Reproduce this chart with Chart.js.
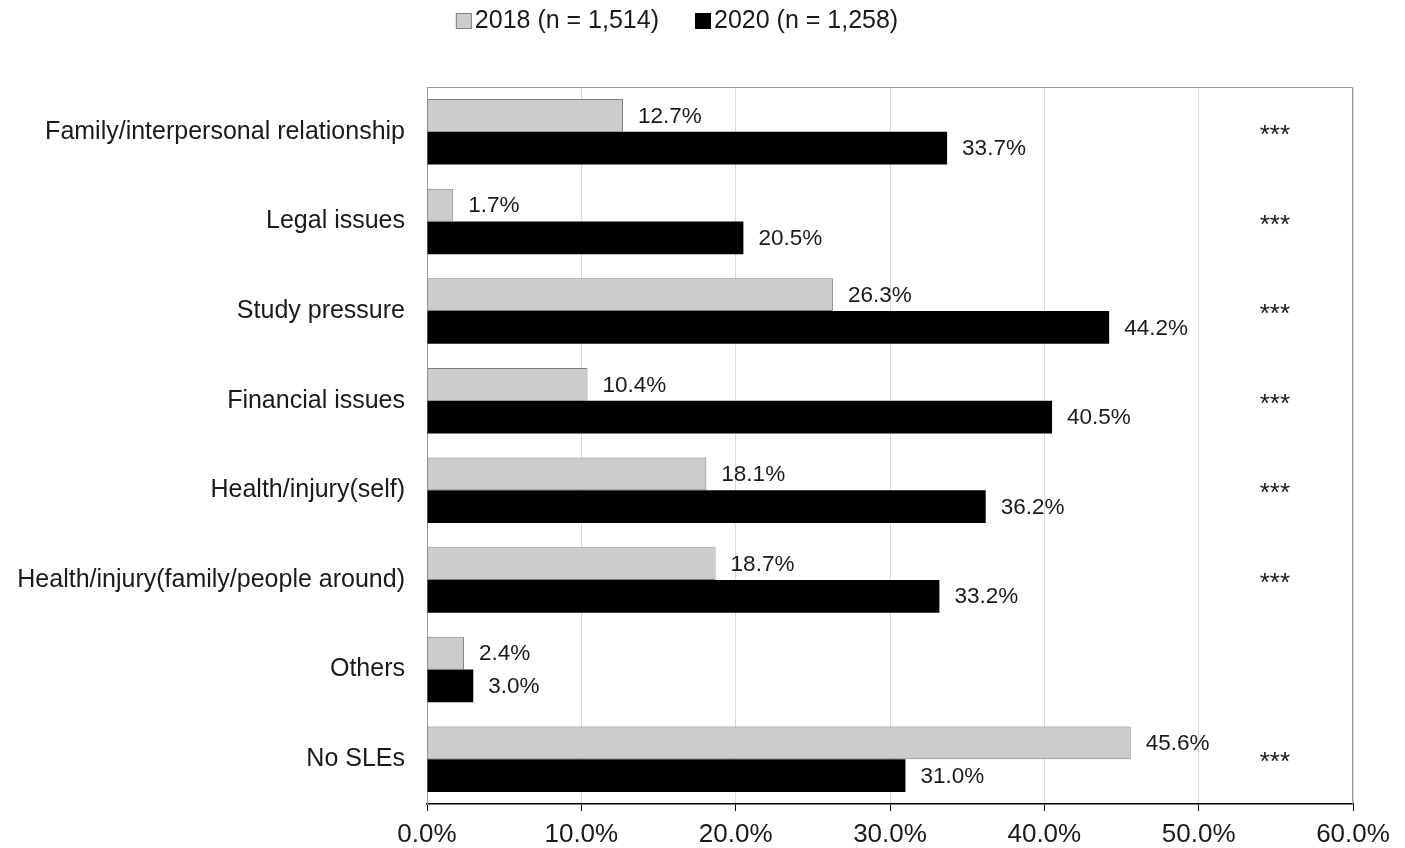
<!DOCTYPE html>
<html>
<head>
<meta charset="utf-8">
<script src="https://cdn.jsdelivr.net/npm/chart.js@4/dist/chart.umd.min.js"></script>
<style>
  html, body { margin: 0; padding: 0; background: #fff; }
  #wrap { width: 1405px; height: 848px; }
</style>
</head>
<body>
<div id="wrap"><canvas id="chartSle"></canvas></div>
<script>
// categories, top to bottom
const categories = [
  'Family/interpersonal relationship',
  'Legal issues',
  'Study pressure',
  'Financial issues',
  'Health/injury(self)',
  'Health/injury(family/people around)',
  'Others',
  'No SLEs'
]
const seriesNames = ['2018 (n = 1,514)', '2020 (n = 1,258)']
const values2018 = [12.7, 1.7, 26.3, 10.4, 18.1, 18.7, 2.4, 45.6]
const values2020 = [33.7, 20.5, 44.2, 40.5, 36.2, 33.2, 3.0, 31.0]
const significance = ['***', '***', '***', '***', '***', '***', '', '***']
const xTicks = [0, 10, 20, 30, 40, 50, 60]

const FONT = 'Arial, "Liberation Sans", sans-serif'
const TEXT = '#1a1a1a'

// legend drawn by hand: small square, tight gap, text
const legendPlugin = {
  id: 'legendPlugin',
  afterDraw(chart) {
    const ctx = chart.ctx
    ctx.save()
    ctx.font = '25px ' + FONT
    ctx.textBaseline = 'middle'
    ctx.textAlign = 'left'
    const box = 16, gap = 3, itemGap = 36
    const widths = chart.data.datasets.map(ds => box + gap + ctx.measureText(ds.label).width)
    const total = widths.reduce((a, b) => a + b, 0) + itemGap * (widths.length - 1)
    let x = 677 - total / 2
    const y = 21
    chart.data.datasets.forEach((ds, i) => {
      ctx.fillStyle = ds.backgroundColor
      ctx.fillRect(x, y - box / 2, box, box)
      ctx.strokeStyle = ds.borderColor
      ctx.lineWidth = 1
      ctx.strokeRect(x + 0.5, y - box / 2 + 0.5, box - 1, box - 1)
      ctx.fillStyle = TEXT
      ctx.fillText(ds.label, x + box + gap, y)
      x += widths[i] + itemGap
    })
    ctx.restore()
  }
}

// value labels next to the bars + significance stars + plot frame
const labelPlugin = {
  id: 'labelPlugin',
  afterDatasetsDraw(chart) {
    const ctx = chart.ctx
    const area = chart.chartArea
    ctx.save()
    // frame on top and right
    ctx.strokeStyle = '#9a9a9a'
    ctx.lineWidth = 1
    ctx.beginPath()
    ctx.moveTo(area.left, area.top + 0.5)
    ctx.lineTo(area.right - 0.5, area.top + 0.5)
    ctx.lineTo(area.right - 0.5, area.bottom)
    ctx.stroke()

    ctx.font = '22.5px ' + FONT
    ctx.fillStyle = TEXT
    ctx.textBaseline = 'middle'
    ctx.textAlign = 'left'
    chart.data.datasets.forEach((ds, i) => {
      const meta = chart.getDatasetMeta(i)
      meta.data.forEach((bar, j) => {
        ctx.fillText(ds.data[j].toFixed(1) + '%', bar.x + 15, bar.y + 1)
      })
    })

    const yScale = chart.scales.y
    const xScale = chart.scales.x
    ctx.textAlign = 'center'
    ctx.font = '26px ' + FONT
    significance.forEach((s, j) => {
      if (s) ctx.fillText(s, xScale.getPixelForValue(55) - 1, yScale.getPixelForValue(j) + 4)
    })
    ctx.restore()
  }
}

const data = {
  labels: categories,
  datasets: [{
    label: seriesNames[0],
    data: values2018,
    backgroundColor: '#cccccc',
    borderColor: '#7f7f7f',
    borderWidth: 1,
    borderSkipped: false,
    categoryPercentage: 0.73,
    barPercentage: 1.0
  }, {
    label: seriesNames[1],
    data: values2020,
    backgroundColor: '#000000',
    borderColor: '#000000',
    borderWidth: 0,
    categoryPercentage: 0.73,
    barPercentage: 1.0
  }]
}

const config = {
  type: 'bar',
  data: data,
  options: {
    indexAxis: 'y',
    responsive: true,
    maintainAspectRatio: false,
    animation: false,
    layout: { padding: { left: 10, right: 52, top: 87, bottom: 0 } },
    plugins: {
      legend: { display: false },
      tooltip: { enabled: false }
    },
    scales: {
      x: {
        min: 0,
        max: 60,
        afterBuildTicks: (scale) => { scale.ticks = xTicks.map(v => ({ value: v })) },
        afterFit: (scale) => { scale.height = 44 },
        ticks: {
          callback: (v) => Number(v).toFixed(1) + '%',
          color: TEXT,
          font: { size: 26, family: FONT },
          maxRotation: 0,
          padding: 8
        },
        grid: {
          color: '#d9d9d9',
          tickColor: '#000000',
          tickLength: 7,
          lineWidth: 1
        },
        border: { color: '#000000', width: 1.5 }
      },
      y: {
        afterFit: (scale) => { scale.width = 417 },
        ticks: {
          color: TEXT,
          font: { size: 25, family: FONT },
          padding: 14
        },
        grid: { display: false },
        border: { display: true, color: '#9a9a9a', width: 1 }
      }
    }
  },
  plugins: [labelPlugin, legendPlugin]
}

const chartSle = new Chart(document.getElementById('chartSle'), config)
</script>
</body>
</html>
